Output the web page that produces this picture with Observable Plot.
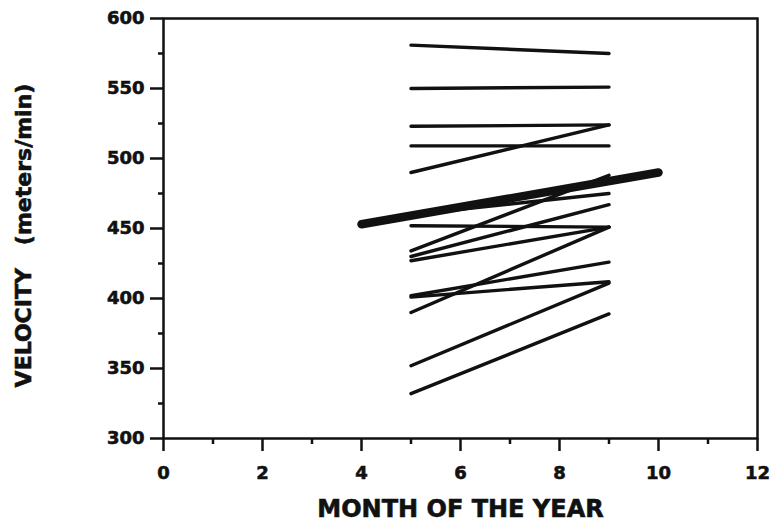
<!DOCTYPE html>
<html>
<head>
<meta charset="utf-8">
<script src="https://cdn.jsdelivr.net/npm/d3@7"></script>
<script src="https://cdn.jsdelivr.net/npm/@observablehq/plot@0.6"></script>
<style>
  html, body { margin: 0; padding: 0; background: #fff; }
  svg text { stroke: #111; stroke-width: 0.6px; }
</style>
</head>
<body>
<script>
// Individual subjects: velocity in May (month 5) and September (month 9)
const subjectMonths = [5, 9];
const mayVelocity  = [581, 550, 523, 509, 490, 460, 452, 434, 430, 427, 402, 401, 390, 352, 332];
const septVelocity = [575, 551, 524, 509, 524, 475, 451, 488, 467, 451, 426, 412, 451, 411, 389];

// Group trend line (thick)
const meanMonths = [4, 10];
const meanVelocity = [453, 490];

// Axis ticks
const xMajorTicks = [0, 2, 4, 6, 8, 10, 12];
const xMinorTicks = [1, 3, 5, 7, 9, 11];
const yMajorTicks = [300, 350, 400, 450, 500, 550, 600];
const yMinorTicks = [325, 375, 425, 475, 525, 575];

const xTitle = "MONTH OF THE YEAR";
const yTitle = "VELOCITY\u00a0\u00a0\u00a0(meters/min)";

const subjects = [];
mayVelocity.forEach((v, i) => {
  subjects.push({id: i, month: subjectMonths[0], velocity: v});
  subjects.push({id: i, month: subjectMonths[1], velocity: septVelocity[i]});
});
const mean = meanMonths.map((m, i) => ({month: m, velocity: meanVelocity[i]}));

const ink = "#111";
const font = "DejaVu Sans";

const chart = Plot.plot({
  width: 770,
  height: 530,
  marginLeft: 163,
  marginRight: 13,
  marginTop: 18,
  marginBottom: 92,
  style: {background: "#fff", color: ink, fontFamily: font, overflow: "visible"},
  x: {domain: [0, 12]},
  y: {domain: [300, 600]},
  marks: [
    Plot.line(subjects, {x: "month", y: "velocity", z: "id", stroke: ink, strokeWidth: 3.4, strokeLinecap: "round"}),
    Plot.line(mean, {x: "month", y: "velocity", stroke: ink, strokeWidth: 8.5, strokeLinecap: "round"}),
    Plot.frame({stroke: ink, strokeWidth: 2.5}),
    Plot.axisX({ticks: xMajorTicks, tickSize: 13, tickPadding: 15, strokeWidth: 2.5, label: null,
      fontSize: 18, fontWeight: "bold", fontFamily: font, fill: ink, stroke: ink}),
    Plot.axisX({ticks: xMinorTicks, tickSize: 6, text: null, label: null, strokeWidth: 2.5, stroke: ink}),
    Plot.axisY({ticks: yMajorTicks, tickSize: 13, tickPadding: 6, strokeWidth: 2.5, label: null,
      fontSize: 18, fontWeight: "bold", fontFamily: font, fill: ink, stroke: ink}),
    Plot.axisY({ticks: yMinorTicks, tickSize: 5, text: null, label: null, strokeWidth: 2.5, stroke: ink}),
    Plot.text([xTitle], {frameAnchor: "bottom", dy: 71, lineAnchor: "middle", textAnchor: "middle", fontSize: 24, fontWeight: "bold", fontFamily: font, fill: ink}),
    Plot.text([yTitle], {frameAnchor: "left", dx: -140, dy: 7, rotate: -90, lineAnchor: "middle", textAnchor: "middle", fontSize: 22, fontWeight: "bold", fontFamily: font, fill: ink})
  ]
});
document.body.appendChild(chart);
</script>
</body>
</html>
